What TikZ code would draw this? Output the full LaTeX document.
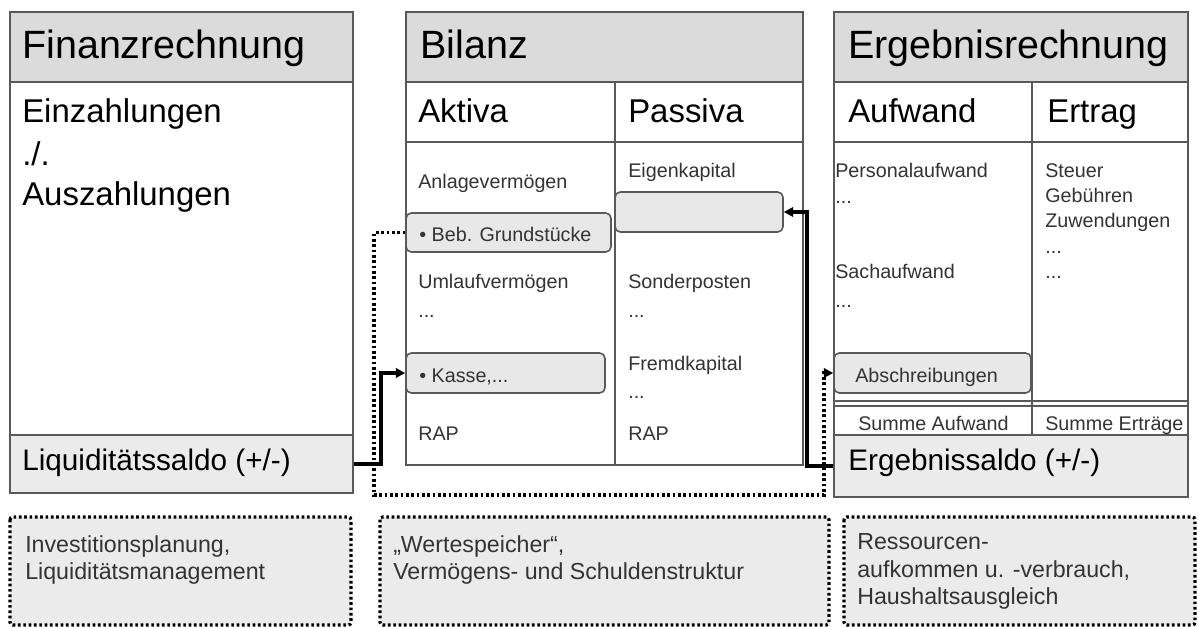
\documentclass[tikz,border=0pt]{standalone}
\usepackage{fontspec}
\setmainfont{Liberation Sans}
\usepackage{xcolor}
\usetikzlibrary{arrows.meta}
\usetikzlibrary{fit}

\newcommand{\headfont}{\fontsize{29.6pt}{33pt}\selectfont}
\newcommand{\subfont}{\fontsize{24.7pt}{28pt}\selectfont}
\newcommand{\saldofont}{\fontsize{22.3pt}{26pt}\selectfont}
\newcommand{\itemfont}{\fontsize{14.8pt}{17pt}\selectfont}
\newcommand{\notefont}{\fontsize{17.4pt}{21pt}\selectfont}

\begin{document}
\begin{tikzpicture}[x=0.75pt,y=-0.75pt,
	frame/.style={draw=black!65,line width=1.3pt},
	headfill/.style={fill=black!14},
	bandfill/.style={fill=black!8},
	itembox/.style={draw=black!65,line width=1.2pt,fill=black!9,rounded corners=4pt,inner sep=0pt},
	band/.style={frame,bandfill,inner sep=0pt},
	txt/.style={anchor=base west,inner sep=0pt},
	head/.style={txt,font=\headfont},
	sub/.style={txt,font=\subfont},
	saldo/.style={txt,font=\saldofont},
	item/.style={txt,font=\itemfont,text=black!80},
	note/.style={txt,font=\notefont,text=black!80},
	flow/.style={line width=3pt,-{Triangle[length=7pt,width=7pt]}},
	dotflow/.style={flow,line width=2.6pt,dash pattern=on 2pt off 2pt},
	notebox/.style={fill=black!8,draw=black,line width=2.4pt,dash pattern=on 2pt off 2pt,rounded corners=2pt}]

	\useasboundingbox (0,0) rectangle (1198,626);

	% (Finanzrechnung)
	\filldraw[frame,fill=white] (10,12) rectangle (353,493);
	\filldraw[frame,headfill] (10,12) rectangle (353,82);
	\node[band,fit={(10,435) (353,493)}] (liq) {};
	\node[head] (fin) at (22,58) {Finanzrechnung};
	\node[sub] (ein) at (22,122) {Einzahlungen};
	\node[sub] (minus) at (22,165) {./.};
	\node[sub] (aus) at (22,205) {Auszahlungen};
	\node[saldo] (liqtext) at (22,470) {Liquiditätssaldo (+/-)};

	% (Bilanz)
	\filldraw[frame,fill=white] (406,12) rectangle (803,465);
	\filldraw[frame,headfill] (406,12) rectangle (803,82);
	\draw[frame] (406,142) -- (803,142);
	\draw[frame] (615,82) -- (615,465);
	\node[head] (bil) at (420,58) {Bilanz};
	\node[sub] (akt) at (418,122) {Aktiva};
	\node[sub] (pas) at (628,122) {Passiva};
	\node[item] (anl) at (418,188) {Anlagevermögen};
	\node[itembox,fit={(406,213) (611,252)}] (beb) {};
	\node[item] (bebtext) at (419,241) {• Beb. Grundstücke};
	\node[item] (uml) at (418,288) {Umlaufvermögen};
	\node[item] (umldots) at (418,317) {...};
	\node[itembox,fit={(406,353) (605,393)}] (kasse) {};
	\node[item] (kassetext) at (419,382) {• Kasse,...};
	\node[item] (raplinks) at (418,440) {RAP};
	\node[item] (eig) at (628,177) {Eigenkapital};
	\node[itembox,fit={(615,192) (783,232)}] (eigen) {};
	\node[item] (son) at (628,288) {Sonderposten};
	\node[item] (sondots) at (628,317) {...};
	\node[item] (fremd) at (628,370) {Fremdkapital};
	\node[item] (fremddots) at (628,398) {...};
	\node[item] (raprechts) at (628,440) {RAP};

	% (Ergebnisrechnung)
	\filldraw[frame,fill=white] (834,12) rectangle (1188,497);
	\filldraw[frame,headfill] (834,12) rectangle (1188,82);
	\draw[frame] (834,142) -- (1188,142);
	\draw[frame] (1032,82) -- (1032,435);
	\draw[frame] (834,401) -- (1188,401);
	\draw[frame] (834,406) -- (1188,406);
	\node[band,fit={(834,435) (1188,497)}] (ergsaldo) {};
	\node[head] (erg) at (848,58) {Ergebnisrechnung};
	\node[sub] (aufw) at (848,122) {Aufwand};
	\node[sub] (ertr) at (1047,122) {Ertrag};
	\node[item] (pers) at (835,177) {Personalaufwand};
	\node[item] (persdots) at (835,203) {...};
	\node[item] (sach) at (835,278) {Sachaufwand};
	\node[item] (sachdots) at (835,307) {...};
	\node[itembox,fit={(834,353) (1031,393)}] (absch) {};
	\node[item] (abschtext) at (855,382) {Abschreibungen};
	\node[item] (steu) at (1045,177) {Steuer};
	\node[item] (geb) at (1045,202) {Gebühren};
	\node[item] (zuw) at (1045,227) {Zuwendungen};
	\node[item] (ertrdots) at (1045,253) {...};
	\node[item] (ertrdotsb) at (1045,278) {...};
	\node[item] (sumaufw) at (858,430) {Summe Aufwand};
	\node[item] (sumertr) at (1045,430) {Summe Erträge};
	\node[saldo] (ergtext) at (848,470) {Ergebnissaldo (+/-)};

	% (Verbindungen)
	\coordinate (dotturn) at (824,495);
	\draw[dotflow] (beb.west) -- ++(-31,0) |- (dotturn) |- (absch.west);
	\draw[flow] (liq.east) -- ++(27,0) |- (kasse.west);
	\draw[flow] (ergsaldo.west) -- ++(-26,0) |- (eigen.east);

	% (Erläuterungen)
	\draw[notebox] (10,517) rectangle (351,625);
	\draw[notebox] (380,517) rectangle (829,625);
	\draw[notebox] (844,517) rectangle (1195,625);
	\node[note] (inv) at (25,552) {Investitionsplanung,};
	\node[note] (liqm) at (25,579) {Liquiditätsmanagement};
	\node[note] (wert) at (393,552) {„Wertespeicher“,};
	\node[note] (verm) at (393,579) {Vermögens- und Schuldenstruktur};
	\node[note] (res) at (857,549) {Ressourcen-};
	\node[note] (aufk) at (857,577) {aufkommen u. -verbrauch,};
	\node[note] (haus) at (857,604) {Haushaltsausgleich};

\end{tikzpicture}
\end{document}
